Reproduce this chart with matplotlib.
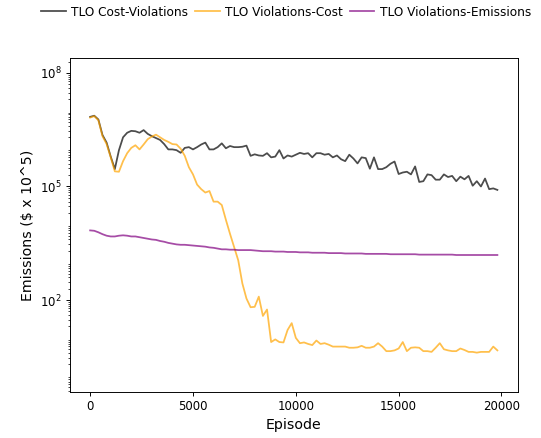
import numpy as np
import matplotlib
matplotlib.use("Agg")
import matplotlib.pyplot as plt

episodes = np.arange(0, 20000, 200)

# log10 of values
cost_viol_log = [6.84, 6.87, 6.77, 6.36, 6.16, 5.79, 5.46, 5.96, 6.30, 6.42,
                 6.47, 6.46, 6.42, 6.49, 6.39, 6.33, 6.28, 6.23, 6.12, 5.98,
                 5.98, 5.96, 5.89, 6.02, 6.04, 5.98, 6.04, 6.11, 6.16, 5.98,
                 5.98, 6.04, 6.14, 6.01, 6.07, 6.04, 6.04, 6.05, 6.08, 5.81,
                 5.85, 5.82, 5.81, 5.88, 5.77, 5.79, 5.96, 5.74, 5.82, 5.79,
                 5.84, 5.89, 5.86, 5.88, 5.77, 5.88, 5.88, 5.84, 5.86, 5.77,
                 5.82, 5.72, 5.67, 5.84, 5.74, 5.61, 5.77, 5.75, 5.47, 5.77,
                 5.46, 5.46, 5.51, 5.60, 5.66, 5.33, 5.37, 5.39, 5.32, 5.53,
                 5.12, 5.14, 5.32, 5.30, 5.18, 5.18, 5.32, 5.25, 5.28, 5.14,
                 5.26, 5.19, 5.28, 5.02, 5.14, 5.00, 5.21, 4.93, 4.95, 4.91]

viol_cost_log = [6.82, 6.86, 6.75, 6.33, 6.12, 5.77, 5.40, 5.39, 5.67, 5.88,
                 6.02, 6.09, 5.98, 6.11, 6.25, 6.32, 6.37, 6.30, 6.23, 6.18,
                 6.12, 6.11, 6.00, 5.81, 5.51, 5.32, 5.05, 4.93, 4.84, 4.88,
                 4.60, 4.60, 4.51, 4.12, 3.75, 3.40, 3.05, 2.44, 2.04, 1.81,
                 1.82, 2.09, 1.58, 1.75, 0.89, 0.96, 0.89, 0.88, 1.21, 1.39,
                 1.00, 0.86, 0.88, 0.84, 0.81, 0.93, 0.84, 0.86, 0.82, 0.77,
                 0.77, 0.77, 0.77, 0.74, 0.74, 0.75, 0.79, 0.74, 0.74, 0.77,
                 0.86, 0.77, 0.65, 0.65, 0.67, 0.72, 0.89, 0.65, 0.74, 0.75,
                 0.74, 0.65, 0.65, 0.63, 0.74, 0.86, 0.70, 0.67, 0.65, 0.65,
                 0.72, 0.68, 0.63, 0.63, 0.61, 0.63, 0.63, 0.63, 0.77, 0.67]

viol_emis_log = [3.84, 3.83, 3.79, 3.74, 3.70, 3.68, 3.68, 3.70, 3.71, 3.70,
                 3.68, 3.68, 3.66, 3.64, 3.62, 3.60, 3.59, 3.56, 3.54, 3.51,
                 3.49, 3.47, 3.46, 3.46, 3.45, 3.44, 3.43, 3.42, 3.41, 3.39,
                 3.38, 3.36, 3.34, 3.34, 3.33, 3.33, 3.32, 3.32, 3.32, 3.32,
                 3.31, 3.30, 3.29, 3.29, 3.29, 3.28, 3.28, 3.28, 3.27, 3.27,
                 3.27, 3.26, 3.26, 3.26, 3.25, 3.25, 3.25, 3.25, 3.24, 3.24,
                 3.24, 3.24, 3.23, 3.23, 3.23, 3.23, 3.23, 3.22, 3.22, 3.22,
                 3.22, 3.22, 3.22, 3.21, 3.21, 3.21, 3.21, 3.21, 3.21, 3.21,
                 3.20, 3.20, 3.20, 3.20, 3.20, 3.20, 3.20, 3.20, 3.20, 3.19,
                 3.19, 3.19, 3.19, 3.19, 3.19, 3.19, 3.19, 3.19, 3.19, 3.19]

labels = ["TLO Cost-Violations", "TLO Violations-Cost", "TLO Violations-Emissions"]
colors = ["black", "orange", "purple"]

DPI = 85
fig = plt.figure(figsize=(541 / DPI, 438 / DPI), dpi=DPI)
ax = fig.add_axes([0.129, 0.105, 0.828, 0.763])

for vals, lab, col in zip([cost_viol_log, viol_cost_log, viol_emis_log], labels, colors):
    ax.plot(episodes, 10 ** np.array(vals), color=col, alpha=0.7, lw=1.5, label=lab)

ax.set_yscale("log")
ax.set_ylim(10 ** -0.43, 10 ** 8.4)
ax.set_yticks([1e2, 1e5, 1e8])
ax.set_xticks([0, 5000, 10000, 15000, 20000])
ax.tick_params(labelsize=10)
ax.set_xlabel("Episode", fontsize=12)
ax.set_ylabel(r"Emissions (\$ x 10^5)", fontsize=12)

fig.legend(loc="upper center", bbox_to_anchor=(0.529, 1.012), ncol=3, frameon=False,
           fontsize=10.3, handlelength=2, columnspacing=0.6, handletextpad=0.45)

fig.savefig("out.png", dpi=DPI)
